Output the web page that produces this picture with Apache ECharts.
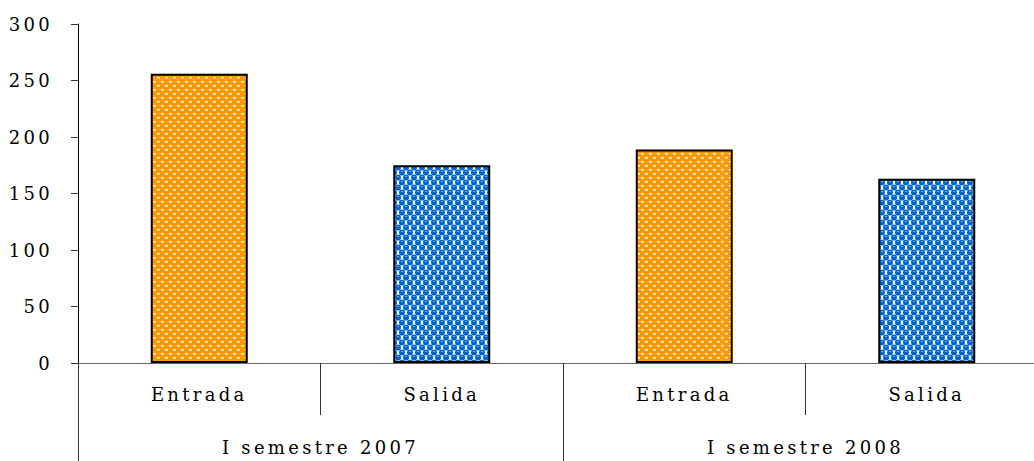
<!DOCTYPE html>
<html>
<head>
<meta charset="utf-8">
<script src="https://cdn.jsdelivr.net/npm/echarts@6/dist/echarts.min.js"></script>
<style>html,body{margin:0;padding:0;background:#fff;overflow:hidden}#c{width:1034px;height:461px}#c text{letter-spacing:3.3px}</style>
</head>
<body>
<div id="c"></div>
<script>
var categories = ['Entrada', 'Salida', 'Entrada', 'Salida'];
var groups = ['I semestre 2007', 'I semestre 2008'];
var values = [256, 175, 189, 163];
var kinds = ['entrada', 'salida', 'entrada', 'salida'];
var yTicks = [0, 50, 100, 150, 200, 250, 300];

function orangePattern() {
  var c = document.createElement('canvas'); c.width = 8; c.height = 8;
  var x = c.getContext('2d');
  x.fillStyle = '#FF9900'; x.fillRect(0, 0, 8, 8);
  x.fillStyle = 'rgba(255,245,225,1)';
  x.fillRect(1, 1, 3, 1); x.fillRect(5, 5, 3, 1);
  x.fillStyle = 'rgba(255,210,140,0.9)';
  x.fillRect(1, 2, 3, 1); x.fillRect(5, 6, 3, 1);
  return c;
}
function bluePattern() {
  var c = document.createElement('canvas'); c.width = 8; c.height = 10;
  var x = c.getContext('2d');
  x.fillStyle = '#ffffff'; x.fillRect(0, 0, 8, 10);
  var pts = [[2, 2.5], [6, 7.5], [-2, 7.5], [6, -2.5], [10, 2.5], [2, 12.5]];
  x.fillStyle = '#0066CC';
  pts.forEach(function (p) { x.beginPath(); x.arc(p[0], p[1], 3.0, 0, Math.PI * 2); x.fill(); });
  x.fillStyle = 'rgba(120,180,240,0.9)';
  [[1, 1], [5, 6]].forEach(function (p) { x.fillRect(p[0], p[1], 2, 1); });
  return c;
}
var fills = { entrada: { image: orangePattern(), repeat: 'repeat' }, salida: { image: bluePattern(), repeat: 'repeat' } };

var font = 'DejaVu Serif';
var chart = echarts.init(document.getElementById('c'), null, { renderer: 'svg' });
chart.setOption({
  animation: false,
  grid: { left: 78, width: 970, top: 24, height: 339, containLabel: false, outerBoundsMode: 'none' },
  xAxis: [
    {
      type: 'category', data: categories, position: 'bottom',
      axisLine: { show: true, lineStyle: { color: '#666', width: 1 } },
      axisTick: { show: true, length: 52, lineStyle: { color: '#333' } },
      axisLabel: { margin: 22, color: '#000', fontFamily: font, fontSize: 18 }
    },
    {
      type: 'category', data: groups, position: 'bottom',
      axisLine: { show: false },
      axisTick: { show: true, length: 98, lineStyle: { color: '#333' } },
      axisLabel: { margin: 75, color: '#000', fontFamily: font, fontSize: 18 }
    }
  ],
  yAxis: {
    type: 'value', min: 0, max: 300, interval: 50,
    axisLine: { show: true, lineStyle: { color: '#000', width: 1 } },
    axisTick: { show: true, length: 7, lineStyle: { color: '#333' } },
    splitLine: { show: false },
    axisLabel: { margin: 25, color: '#000', fontFamily: font, fontSize: 18,
      formatter: function (v) { return yTicks.indexOf(v) >= 0 ? String(v) : ''; } }
  },
  series: [{
    type: 'bar', xAxisIndex: 0, barWidth: 97,
    data: values.map(function (v, i) {
      return { value: v, itemStyle: { color: fills[kinds[i]], borderColor: '#000', borderWidth: 2 } };
    })
  }]
});
</script>
</body>
</html>
